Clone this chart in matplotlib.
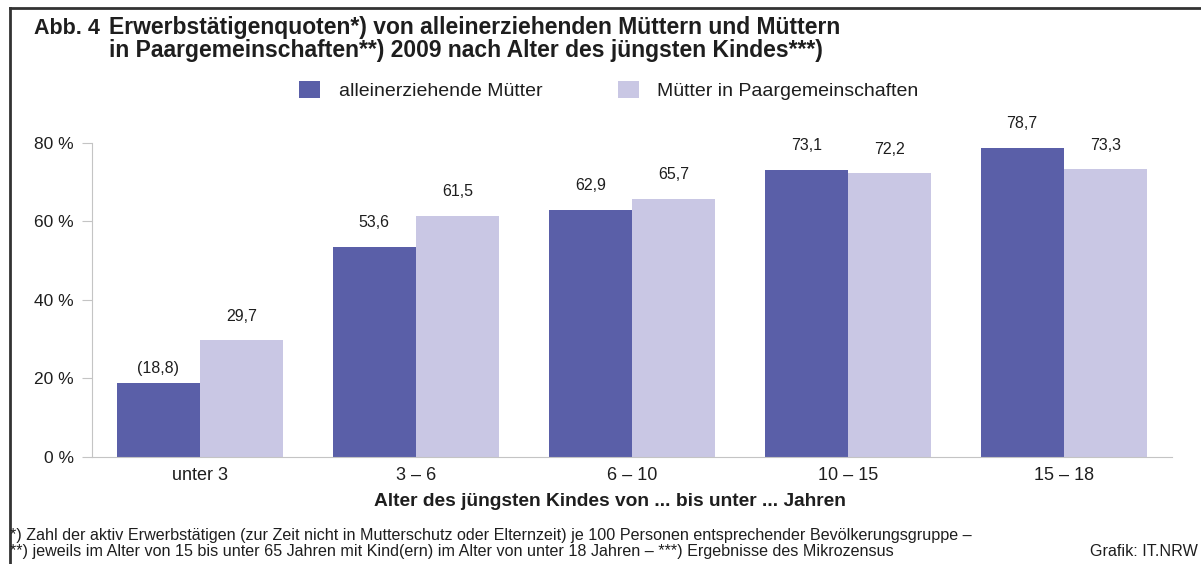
"""Abb. 4: Erwerbstätigenquoten von Müttern nach Alter des jüngsten Kindes."""

import matplotlib

matplotlib.use("Agg")

import matplotlib.pyplot as plt  # noqa: E402
import numpy as np  # noqa: E402
from matplotlib.lines import Line2D  # noqa: E402

plt.rcParams["font.family"] = ["Liberation Sans", "DejaVu Sans"]

categories = ["unter 3", "3 – 6", "6 – 10", "10 – 15", "15 – 18"]
allein = [18.8, 53.6, 62.9, 73.1, 78.7]
paar = [29.7, 61.5, 65.7, 72.2, 73.3]
allein_labels = ["(18,8)", "53,6", "62,9", "73,1", "78,7"]
paar_labels = ["29,7", "61,5", "65,7", "72,2", "73,3"]
yticks = [0, 20, 40, 60, 80]

BLUE = "#5a5fa8"
LILAC = "#c9c7e4"
AXIS = "#c4c4c4"
TXT = "#1e1e1e"

fig = plt.figure(figsize=(12.01, 5.64), dpi=100)
ax = fig.add_axes([0.0766, 0.1897, 0.899, 0.557])

x = np.arange(len(categories))
w = 0.385
b1 = ax.bar(x - w / 2, allein, w, color=BLUE, label="alleinerziehende Mütter")
b2 = ax.bar(x + w / 2, paar, w, color=LILAC, label="Mütter in Paargemeinschaften")

for bars, labels in ((b1, allein_labels), (b2, paar_labels)):
    for rect, lab in zip(bars, labels):
        off = 5 if lab.startswith("(") else 12
        ax.annotate(
            lab,
            (rect.get_x() + rect.get_width() / 2, rect.get_height()),
            xytext=(0, off),
            textcoords="offset points",
            ha="center",
            va="bottom",
            fontsize=11.5,
            color=TXT,
        )

ax.set_xlim(-0.5, len(categories) - 0.5)
ax.set_ylim(0, 80)
ax.set_yticks(yticks)
ax.set_yticklabels([f"{t} %" for t in yticks], fontsize=12.5, color=TXT)
ax.set_xticks(x)
ax.set_xticklabels(categories, fontsize=13, color=TXT)
ax.tick_params(axis="x", length=0, pad=7)
ax.tick_params(axis="y", length=7, color=AXIS, pad=6)
for side in ("top", "right"):
    ax.spines[side].set_visible(False)
for side in ("left", "bottom"):
    ax.spines[side].set_color(AXIS)
ax.set_xlabel(
    "Alter des jüngsten Kindes von ... bis unter ... Jahren",
    fontsize=13.8,
    fontweight="bold",
    color=TXT,
    labelpad=7,
)
ax.xaxis.label.set_x(0.48)

fig.legend(
    handles=[b1, b2],
    loc="center",
    bbox_to_anchor=(0.507, 0.839),
    ncol=2,
    frameon=False,
    fontsize=14,
    handlelength=1.08,
    handleheight=0.95,
    handletextpad=0.95,
    columnspacing=3.9,
    labelcolor=TXT,
)

title_kw = dict(fontweight="bold", va="baseline", color=TXT)
fig.text(0.028, 1 - 34 / 564, "Abb. 4", fontsize=15.5, **title_kw)
fig.text(
    0.091,
    1 - 34 / 564,
    "Erwerbstätigenquoten*) von alleinerziehenden Müttern und Müttern",
    fontsize=16.5,
    **title_kw,
)
fig.text(
    0.091,
    1 - 57 / 564,
    "in Paargemeinschaften**) 2009 nach Alter des jüngsten Kindes***)",
    fontsize=16.5,
    **title_kw,
)

foot_kw = dict(fontsize=11.6, va="center", color=TXT)
fig.text(
    0.008,
    0.051,
    "*) Zahl der aktiv Erwerbstätigen (zur Zeit nicht in Mutterschutz oder Elternzeit) "
    "je 100 Personen entsprechender Bevölkerungsgruppe –",
    **foot_kw,
)
fig.text(
    0.008,
    0.022,
    "**) jeweils im Alter von 15 bis unter 65 Jahren mit Kind(ern) im Alter von unter "
    "18 Jahren – ***) Ergebnisse des Mikrozensus",
    **foot_kw,
)
fig.text(0.997, 0.022, "Grafik: IT.NRW", ha="right", **foot_kw)

# Rahmen (links und oben)
fig.add_artist(Line2D([0.008, 0.008], [0, 0.986], color="#333333", lw=2))
fig.add_artist(Line2D([0.008, 1.0], [0.986, 0.986], color="#333333", lw=2))

fig.savefig("out.png", dpi=100)
plt.close(fig)
